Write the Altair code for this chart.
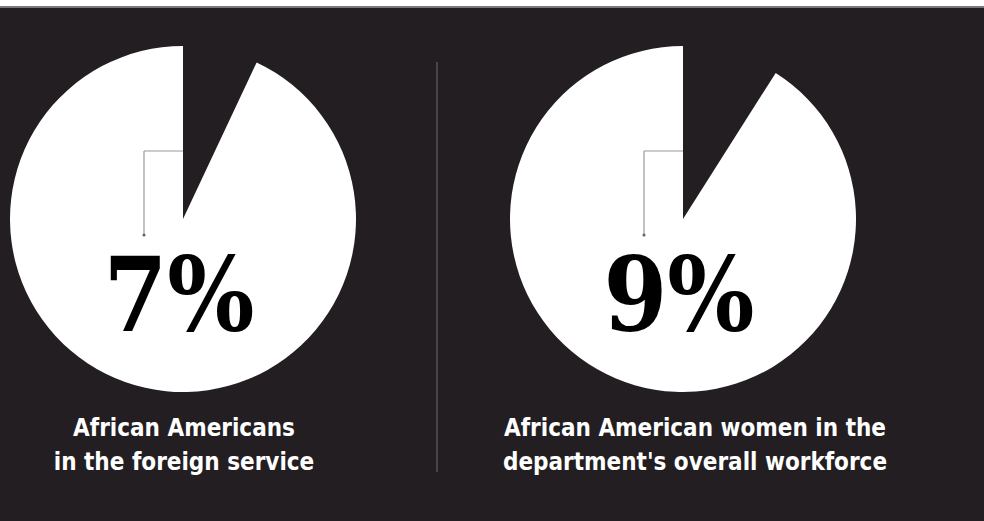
import altair as alt
import pandas as pd

# ---- data ----
groups = ["foreign service", "overall workforce"]
shares = [7, 9]
pct_text = ["7%", "9%"]
captions = [
    "African Americans\nin the foreign service",
    "African American women in the\ndepartment's overall workforce",
]

BG = "#221e21"
W, H = 984, 521

rows = []
for g, s in zip(groups, shares):
    rows.append({"group": g, "segment": "share", "ord": 0, "value": s})
    rows.append({"group": g, "segment": "rest", "ord": 1, "value": 100 - s})
pie_df = pd.DataFrame(rows)
lab_df = pd.DataFrame({"group": groups, "pct": pct_text, "caption": captions})

# layout (centres of each pie / text)
layout = {
    "foreign service": dict(cx=183, cy=219, tx=179, capx=184),
    "overall workforce": dict(cx=683, cy=219, tx=679, capx=695),
}
R = 173

layers = []

# top page strip + rule
one = pd.DataFrame({"k": [0]})
layers.append(
    alt.Chart(one).mark_rect(color="#ffffff").encode(
        x=alt.value(0), x2=alt.value(W), y=alt.value(0), y2=alt.value(6)
    )
)
layers.append(
    alt.Chart(one).mark_rect(color="#7a777a").encode(
        x=alt.value(0), x2=alt.value(W), y=alt.value(6), y2=alt.value(8)
    )
)

for g in groups:
    L = layout[g]
    arc = (
        alt.Chart(pie_df)
        .transform_filter(alt.datum.group == g)
        .mark_arc(outerRadius=R)
        .encode(
            theta=alt.Theta("value:Q", stack=True),
            color=alt.Color(
                "segment:N",
                scale=alt.Scale(domain=["share", "rest"], range=[BG, "#ffffff"]),
                legend=None,
            ),
            order=alt.Order("ord:Q"),
            x=alt.value(L["cx"]),
            y=alt.value(L["cy"]),
        )
    )
    layers.append(arc)

    lx = L["cx"] - 39
    sub = alt.Chart(lab_df).transform_filter(alt.datum.group == g)
    layers.append(
        sub.mark_rule(color="#9a9a9a", strokeWidth=1.2).encode(
            x=alt.value(lx), x2=alt.value(L["cx"]), y=alt.value(151)
        )
    )
    layers.append(
        sub.mark_rule(color="#9a9a9a", strokeWidth=1.2).encode(
            x=alt.value(lx), y=alt.value(151), y2=alt.value(235)
        )
    )
    layers.append(
        sub.mark_point(filled=True, color="#666666", size=10, opacity=1).encode(
            x=alt.value(lx), y=alt.value(235)
        )
    )
    layers.append(
        sub.mark_text(
            font="DejaVu Serif Condensed",
            fontWeight="bold",
            fontSize=102,
            color="#000000",
            align="center",
            baseline="alphabetic",
        ).encode(text="pct:N", x=alt.value(L["tx"]), y=alt.value(331))
    )
    layers.append(
        sub.mark_text(
            font="DejaVu Sans Condensed",
            fontWeight="bold",
            fontSize=24,
            lineHeight=34,
            lineBreak="\n",
            color="#ffffff",
            align="center",
            baseline="alphabetic",
        ).encode(text="caption:N", x=alt.value(L["capx"]), y=alt.value(436))
    )

# divider
layers.append(
    alt.Chart(one).mark_rule(color="#4a4548", strokeWidth=2).encode(
        x=alt.value(437), y=alt.value(62), y2=alt.value(472)
    )
)

chart = (
    alt.layer(*layers)
    .properties(width=W, height=H, background=BG, padding=0,
                autosize=alt.AutoSizeParams(type="none"))
    .configure_view(stroke=None)
)

chart.save("out.html", embed_options={"renderer": "svg", "actions": False})
